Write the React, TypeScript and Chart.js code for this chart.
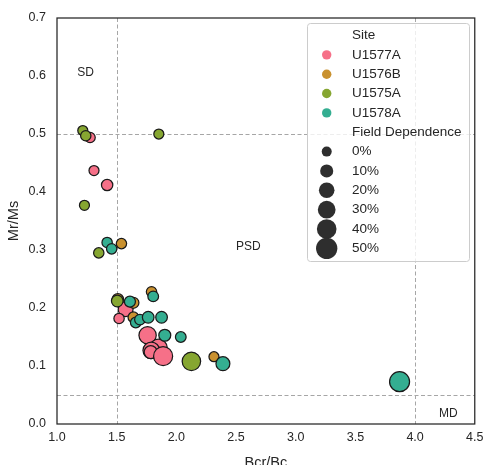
import React, { useEffect, useRef } from 'react';
import { Chart, registerables } from 'chart.js';
Chart.register(...registerables);

// ---- data ----
const sites = ['U1577A', 'U1576B', 'U1575A', 'U1578A'];
const siteColors = ['#f67088', '#c9912f', '#86a631', '#34ae91'];

const u1577aX = [1.277, 1.31, 1.42, 1.575, 1.52, 1.759, 1.85, 1.79, 1.785, 1.889];
const u1577aY = [0.494, 0.437, 0.412, 0.198, 0.182, 0.153, 0.131, 0.127, 0.124, 0.117];
const u1577aFD = [1, 0, 4, 17, 1, 28, 30, 25, 10, 37];

const u1576bX = [1.51, 1.54, 1.64, 1.64, 1.792, 2.315];
const u1576bY = [0.215, 0.311, 0.209, 0.184, 0.228, 0.116];
const u1576bFD = [4, 1, 3, 2, 1, 0];

const u1575aX = [1.216, 1.241, 1.853, 1.23, 1.35, 1.505, 2.126];
const u1575aY = [0.506, 0.497, 0.5, 0.377, 0.295, 0.212, 0.108];
const u1575aFD = [0, 1, 0, 0, 1, 5, 34];

const u1578aX = [1.42, 1.458, 1.611, 1.66, 1.695, 1.764, 1.876, 1.806, 1.903, 2.037, 2.39, 3.87];
const u1578aY = [0.313, 0.302, 0.211, 0.175, 0.18, 0.184, 0.184, 0.22, 0.153, 0.15, 0.104, 0.073];
const u1578aFD = [1, 1, 3, 2, 2, 5, 5, 2, 6, 2, 13, 42];

const xTickValues = [1.0, 1.5, 2.0, 2.5, 3.0, 3.5, 4.0, 4.5];
const yTickValues = [0.0, 0.1, 0.2, 0.3, 0.4, 0.5, 0.6, 0.7];
const refX = [1.5, 4.0];
const refY = [0.5, 0.05];
const annotationTexts = ['SD', 'PSD', 'MD'];
const annotationX = [1.17, 2.5, 4.2];
const annotationY = [0.6, 0.3, 0.012];
const fdLegend = [0, 10, 20, 30, 40, 50];

const FONT = '"Liberation Sans", Arial, sans-serif';
const TEXT = '#262626';

const radiusFor = (fd: number) => Math.sqrt(25 + 1.78 * fd);

const seriesX = [u1577aX, u1576bX, u1575aX, u1578aX];
const seriesY = [u1577aY, u1576bY, u1575aY, u1578aY];
const seriesFD = [u1577aFD, u1576bFD, u1575aFD, u1578aFD];
const drawOrder = [3, 2, 1, 0];

const overlayPlugin = {
  id: 'overlay',
  beforeDatasetsDraw(chart: any) {
    const { ctx, chartArea: a, scales } = chart;
    const xs = scales.x, ys = scales.y;
    ctx.save();
    ctx.strokeStyle = '#a6a6a6';
    ctx.lineWidth = 1;
    ctx.setLineDash([4, 2.5]);
    refX.forEach((v) => {
      const px = Math.round(xs.getPixelForValue(v)) + 0.5;
      ctx.beginPath(); ctx.moveTo(px, a.top); ctx.lineTo(px, a.bottom); ctx.stroke();
    });
    refY.forEach((v) => {
      const py = Math.round(ys.getPixelForValue(v)) + 0.5;
      ctx.beginPath(); ctx.moveTo(a.left, py); ctx.lineTo(a.right, py); ctx.stroke();
    });
    ctx.setLineDash([]);
    ctx.fillStyle = TEXT;
    ctx.font = `12px ${FONT}`;
    ctx.textAlign = 'left';
    ctx.textBaseline = 'alphabetic';
    annotationTexts.forEach((t, i) => {
      ctx.fillText(t, xs.getPixelForValue(annotationX[i]), ys.getPixelForValue(annotationY[i]));
    });
    ctx.restore();
  },
  afterDraw(chart: any) {
    const { ctx, chartArea: a } = chart;
    ctx.save();
    ctx.strokeStyle = TEXT;
    ctx.lineWidth = 1.25;
    ctx.strokeRect(a.left, a.top, a.right - a.left, a.bottom - a.top);

    // legend
    const bx = 307, by = 23, bw = 162, bh = 238;
    ctx.fillStyle = 'rgba(255,255,255,0.8)';
    ctx.strokeStyle = '#cccccc';
    ctx.lineWidth = 1;
    ctx.beginPath();
    if (ctx.roundRect) ctx.roundRect(bx + 0.5, by + 0.5, bw, bh, 3);
    else ctx.rect(bx + 0.5, by + 0.5, bw, bh);
    ctx.fill();
    ctx.stroke();

    const mx = 326.7, tx = 352;
    const rowH = 19.35;
    let y = 35.5;
    ctx.font = `13.5px ${FONT}`;
    ctx.textAlign = 'left';
    ctx.textBaseline = 'middle';
    ctx.fillStyle = TEXT;
    ctx.fillText('Site', tx, y);
    sites.forEach((s, i) => {
      y += rowH;
      ctx.fillStyle = siteColors[i];
      ctx.beginPath(); ctx.arc(mx, y, 4.7, 0, Math.PI * 2); ctx.fill();
      ctx.fillStyle = TEXT;
      ctx.fillText(s, tx, y);
    });
    y += rowH;
    ctx.fillText('Field Dependence', tx, y);
    fdLegend.forEach((v) => {
      y += rowH;
      ctx.fillStyle = '#2e2e2e';
      ctx.beginPath(); ctx.arc(mx, y, radiusFor(v), 0, Math.PI * 2); ctx.fill();
      ctx.fillStyle = TEXT;
      ctx.fillText(`${v}%`, tx, y);
    });
    ctx.restore();
  },
};

export default function App() {
  const ref = useRef<HTMLCanvasElement | null>(null);
  useEffect(() => {
    if (!ref.current) return;
    const datasets = sites.map((s, i) => ({
      label: s,
      data: seriesX[i].map((x, j) => ({ x, y: seriesY[i][j] })),
      backgroundColor: siteColors[i],
      borderColor: '#1a1a1a',
      borderWidth: 1.25,
      order: drawOrder[i],
      pointRadius: (c: any) => radiusFor(seriesFD[i][c.dataIndex] ?? 0),
      pointHoverRadius: (c: any) => radiusFor(seriesFD[i][c.dataIndex] ?? 0),
    }));
    const chart = new Chart(ref.current, {
      type: 'scatter',
      data: { datasets },
      plugins: [overlayPlugin],
      options: {
        animation: false,
        responsive: false,
        events: [],
        layout: { padding: { top: 18, right: 10, left: 0, bottom: 0 } },
        plugins: { legend: { display: false }, tooltip: { enabled: false } },
        scales: {
          x: {
            type: 'linear',
            min: 1.0,
            max: 4.5,
            afterBuildTicks: (s: any) => { s.ticks = xTickValues.map((v) => ({ value: v })); },
            afterFit: (s: any) => { s.height = 41; s.paddingLeft = 0; s.paddingRight = 0; },
            grid: { display: false, drawTicks: false, tickLength: 0 },
            border: { display: false },
            ticks: {
              padding: 6,
              color: TEXT,
              font: { family: FONT, size: 12.5 },
              maxRotation: 0,
              callback: (v: any) => Number(v).toFixed(1),
            },
            title: {
              display: true,
              text: 'Bcr/Bc',
              color: TEXT,
              font: { family: FONT, size: 14.5 },
              padding: { top: 0, bottom: -7 },
            },
          },
          y: {
            type: 'linear',
            min: 0,
            max: 0.7,
            afterBuildTicks: (s: any) => { s.ticks = yTickValues.map((v) => ({ value: v })); },
            afterFit: (s: any) => { s.width = 57; s.paddingTop = 0; s.paddingBottom = 0; },
            grid: { display: false, drawTicks: false, tickLength: 0 },
            border: { display: false },
            ticks: {
              padding: 11,
              color: TEXT,
              font: { family: FONT, size: 12.5 },
              callback: (v: any) => Number(v).toFixed(1),
            },
            title: {
              display: true,
              text: 'Mr/Ms',
              color: TEXT,
              font: { family: FONT, size: 14.5 },
              padding: { top: 5, bottom: 0 },
            },
          },
        },
      },
    });
    return () => chart.destroy();
  }, []);
  return (
    <div style={{ position: 'absolute', left: 0, top: 0, width: 486, height: 465, background: '#fff' }}>
      <canvas ref={ref} width={486} height={465} style={{ display: 'block', width: 486, height: 465 }} />
    </div>
  );
}
